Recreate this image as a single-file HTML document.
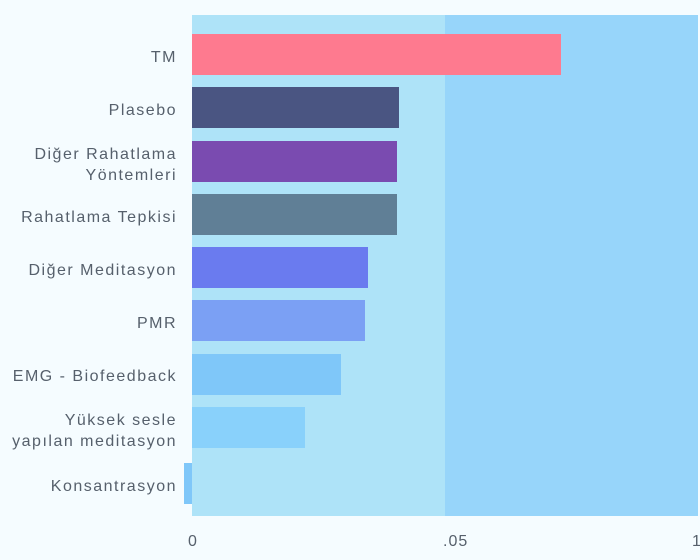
<!DOCTYPE html>
<html><head><meta charset="utf-8"><style>
body{margin:0;background:#f5fcff;}
svg{display:block;font-family:"Liberation Sans",sans-serif;}
text{fill:#56606c;font-size:16px;letter-spacing:1.5px;}
</style></head><body>
<svg width="700" height="560" xmlns="http://www.w3.org/2000/svg">
<rect width="700" height="560" fill="#f5fcff"/>
<rect x="192" y="15" width="253" height="501" fill="#aee3f8"/>
<rect x="445" y="15" width="253" height="501" fill="#97d5fa"/>
<rect x="192" y="34" width="369" height="41" fill="#fe7a8f"/>
<rect x="192" y="87" width="207" height="41" fill="#4a5582"/>
<rect x="192" y="141" width="205" height="41" fill="#7a4bb0"/>
<rect x="192" y="194" width="205" height="41" fill="#607f96"/>
<rect x="192" y="247" width="176" height="41" fill="#6a7bef"/>
<rect x="192" y="300" width="173" height="41" fill="#7ba0f4"/>
<rect x="192" y="354" width="149" height="41" fill="#7fc7f9"/>
<rect x="192" y="407" width="113" height="41" fill="#89d1fb"/>
<rect x="184" y="463" width="8" height="41" fill="#7fc7f9"/>
<g text-anchor="end">
<text x="177" y="62">TM</text>
<text x="177" y="115">Plasebo</text>
<text x="177" y="159">Diğer Rahatlama</text>
<text x="177" y="180">Yöntemleri</text>
<text x="177" y="222">Rahatlama Tepkisi</text>
<text x="177" y="275">Diğer Meditasyon</text>
<text x="177" y="328">PMR</text>
<text x="177" y="381">EMG - Biofeedback</text>
<text x="177" y="425">Yüksek sesle</text>
<text x="177" y="446">yapılan meditasyon</text>
<text x="177" y="491">Konsantrasyon</text>
</g>
<text x="188" y="546" font-size="14" style="letter-spacing:1px">0</text>
<text x="443" y="546" font-size="14" style="letter-spacing:1px">.05</text>
<text x="692" y="546" font-size="14" style="letter-spacing:1px">1</text>
</svg>
</body></html>
